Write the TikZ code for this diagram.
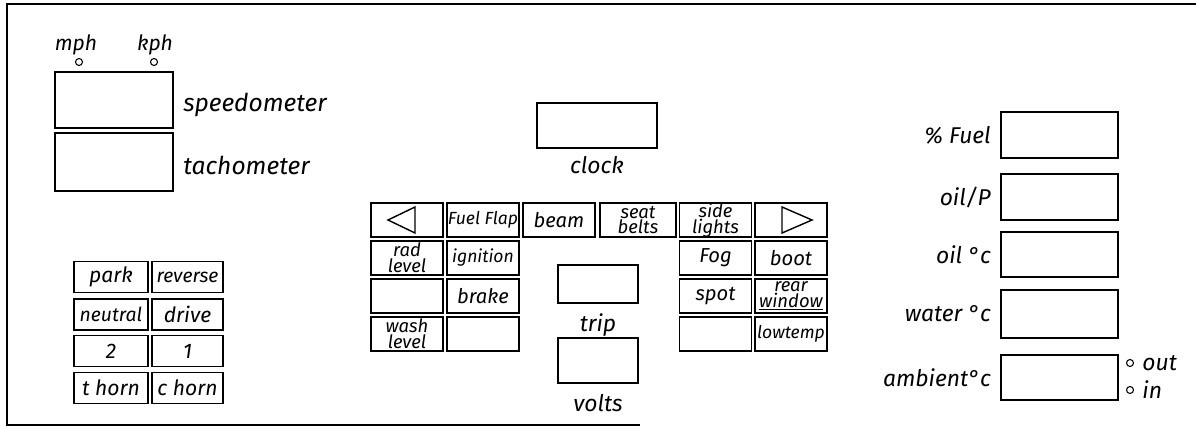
\documentclass[tikz,border=0pt]{standalone}
\usepackage{fontspec}
\setmainfont{Fira Sans}
\usetikzlibrary{positioning}

\tikzset{
  panel/.style={draw, line width=1pt, inner sep=0pt},
  key/.style={panel, minimum width=1.44cm, minimum height=0.68cm,
              font=\fontsize{11.5}{11.5}\selectfont\itshape},
  keynarrow/.style={key, font=\fontsize{10}{10}\selectfont\itshape},
  keytwo/.style={key, align=center, font=\fontsize{10.5}{9}\selectfont\itshape},
  gear/.style={panel, minimum height=0.62cm, font=\fontsize{12}{12}\selectfont\itshape},
  tag/.style={inner sep=0pt, font=\fontsize{13}{13}\selectfont\itshape},
  lamp/.style={circle, draw, line width=0.6pt, minimum size=0.14cm, inner sep=0pt}
}

\begin{document}
\begin{tikzpicture}[x=0.02cm, y=-0.02cm]
    \useasboundingbox (0,0) rectangle (1196,428);
    % panel outline
    \draw[line width=1pt] (1196,4) -- (7,4) -- (7,425) -- (640,425);

    % speed and revs
    \node[tag, font=\fontsize{12}{12}\selectfont\itshape] (mph) at (76,45) {mph};
    \node[tag, font=\fontsize{12}{12}\selectfont\itshape] (kph) at (155,45) {kph};
    \node[lamp] (mphlamp) at (79,62) {};
    \node[lamp] (kphlamp) at (154,62) {};
    \node[panel, minimum width=2.36cm, minimum height=1.12cm] (speedo) at (114,100) {};
    \node[panel, minimum width=2.36cm, minimum height=1.16cm] (tacho) at (114,162) {};
    \node[tag, anchor=west, font=\fontsize{14}{14}\selectfont\itshape] (speedotag) at (183,105) {speedometer};
    \node[tag, anchor=west, font=\fontsize{14}{14}\selectfont\itshape] (tachotag) at (183,165) {tachometer};

    % gear selector
    \node[gear, minimum width=1.48cm] (park) at (111,277) {park};
    \node[gear, minimum width=1.42cm, font=\fontsize{11}{11}\selectfont\itshape] (reverse) at (187.5,277) {reverse};
    \node[gear, minimum width=1.48cm, font=\fontsize{11}{11}\selectfont\itshape] (neutral) at (111,314.5) {neutral};
    \node[gear, minimum width=1.42cm] (drive) at (187.5,314.5) {drive};
    \node[gear, minimum width=1.48cm] (second) at (111,351) {2};
    \node[gear, minimum width=1.42cm] (first) at (187.5,351) {1};
    \node[gear, minimum width=1.48cm] (thorn) at (111,388) {t horn};
    \node[gear, minimum width=1.42cm] (chorn) at (187.5,388) {c horn};

    % clock, trip, volts
    \node[panel, minimum width=2.4cm, minimum height=0.9cm] (clock) at (597,125.5) {};
    \node[tag, below=0.15cm of clock] (clocktag) {clock};
    \node[panel, minimum width=1.6cm, minimum height=0.76cm] (trip) at (598,284) {};
    \node[tag, below=0.18cm of trip] (triptag) {trip};
    \node[panel, minimum width=1.6cm, minimum height=0.9cm] (volts) at (598,360.5) {};
    \node[tag, below=0.2cm of volts] (voltstag) {volts};

    % warning keys, top row
    \node[key] (leftind) at (407,220) {};
    \node[keynarrow] (fuelflap) at (483,220) {Fuel Flap};
    \node[key] (beam) at (559,220) {beam};
    \node[keytwo, minimum width=1.52cm] (seatbelts) at (638,220) {seat\\belts};
    \node[keytwo] (sidelights) at (715.5,220) {side\\lights};
    \node[key] (rightind) at (791,220) {};
    \draw[line width=0.8pt] (388,220) -- (415,207) -- (415,233) -- cycle;
    \draw[line width=0.8pt] (782,207) -- (812,220) -- (782,233) -- cycle;

    % warning keys, left block
    \node[keytwo] (radlevel) at (407,258) {rad\\level};
    \node[keynarrow] (ignition) at (483,258) {ignition};
    \node[key] (blanka) at (407,296) {};
    \node[key] (brake) at (483,296) {brake};
    \node[keytwo] (washlevel) at (407,334) {wash\\level};
    \node[key] (blankb) at (483,334) {};

    % warning keys, right block
    \node[key] (fog) at (715.5,258) {Fog};
    \node[key] (boot) at (791,258) {boot};
    \node[key] (spot) at (715.5,296) {spot};
    \node[keytwo] (rearwindow) at (791,296) {rear\\\underline{window}};
    \node[key] (blankc) at (715.5,334) {};
    \node[keynarrow] (lowtemp) at (791,334) {lowtemp};

    % gauges on the right
    \node[panel, minimum width=2.34cm, minimum height=0.92cm] (fuel) at (1059.5,135) {};
    \node[tag, left=0.18cm of fuel] (fueltag) {\% Fuel};
    \node[panel, minimum width=2.34cm, minimum height=0.92cm] (oilp) at (1059.5,197) {};
    \node[tag, left=0.18cm of oilp] (oilptag) {oil/P};
    \node[panel, minimum width=2.34cm, minimum height=0.9cm] (oilt) at (1059.5,254.5) {};
    \node[tag, left=0.18cm of oilt] (oilttag) {oil °c};
    \node[panel, minimum width=2.34cm, minimum height=0.96cm] (water) at (1059.5,314) {};
    \node[tag, left=0.18cm of water] (watertag) {water °c};
    \node[panel, minimum width=2.34cm, minimum height=0.9cm] (ambient) at (1059.5,377.5) {};
    \node[tag, left=0.18cm of ambient] (ambienttag) {ambient°c};
    \node[lamp] (outlamp) at (1130,363) {};
    \node[tag, right=0.16cm of outlamp] (outtag) {out};
    \node[lamp] (inlamp) at (1130,390) {};
    \node[tag, right=0.16cm of inlamp] (intag) {in};
\end{tikzpicture}
\end{document}
